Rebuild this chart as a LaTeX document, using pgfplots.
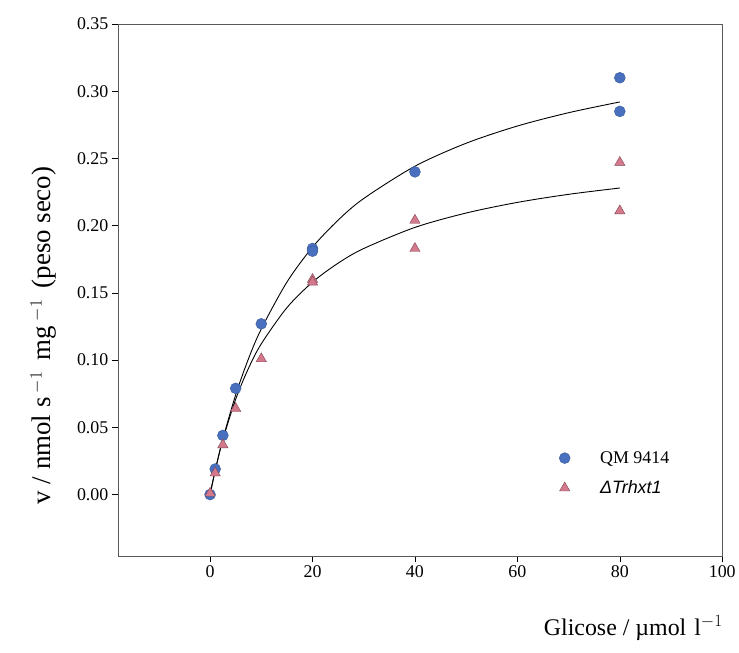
\documentclass[border=0pt]{standalone}
\usepackage{fontspec}
\setmainfont{Liberation Serif}
\setsansfont{Liberation Sans}
\usepackage{pgfplots}
\pgfplotsset{compat=1.18}
\definecolor{qmblue}{RGB}{72,112,190}
\definecolor{trpink}{RGB}{212,120,140}
\begin{document}
\begin{tikzpicture}
\begin{axis}[
  scale only axis,
  width=605bp, height=533bp,
  xmin=-18, xmax=100, ymin=-0.046, ymax=0.35,
  xtick={0,20,40,60,80,100},
  ytick={0,0.05,0.10,0.15,0.20,0.25,0.30,0.35},
  yticklabel style={/pgf/number format/.cd,fixed,fixed zerofill,precision=2},
  /pgf/number format/assume math mode=true,
  tick align=outside,
  xtick pos=bottom, ytick pos=left,
  major tick length=6bp,
  tick style={black, line width=0.6pt},
  ticklabel style={font=\fontsize{18}{20}\selectfont},
  axis line style={gray!70!black, line width=0.7pt},
  xlabel={Glicose / \textmu mol\,\,l$^{-1}$},
  xlabel style={font=\fontsize{24}{26}\selectfont, at={(rel axis cs:1,0)}, anchor=north east, yshift=-56bp, xshift=4bp},
  ylabel={v / nmol s\,$^{-1}$\, mg\,$^{-1}$\, (peso seco)},
  ylabel style={font=\fontsize{27}{29}\selectfont, at={(rel axis cs:0,0.415)}, yshift=58bp},
  legend style={draw=none, fill=none, at={(rel axis cs:0.725,0.205)}, anchor=north west,
    font=\fontsize{18}{20}\selectfont, row sep=12bp},
  legend cell align=left,
]
\addplot[only marks, mark=*, mark size=5.5pt, mark options={fill=qmblue, draw=qmblue!80!black}]
  coordinates {(0,0.000) (1,0.019) (2.5,0.044) (5,0.079) (10,0.127) (20,0.183) (20,0.181) (40,0.240) (80,0.310) (80,0.285)};
\addlegendentry{\hspace*{28bp}QM 9414}
\addplot[only marks, mark=triangle*, mark size=6pt, mark options={fill=trpink, draw=trpink!60!black}]
  coordinates {(0,0.001) (1,0.016) (2.5,0.037) (5,0.064) (10,0.101) (20,0.160) (20,0.158) (40,0.204) (40,0.183) (80,0.247) (80,0.211)};
\addlegendentry{\hspace*{28bp}\sffamily\itshape ΔTrhxt1}
\addplot[black, line width=0.9pt, smooth, forget plot]
  coordinates {(0,0) (1,0.0177) (2.5,0.0413) (5,0.0742) (7.5,0.1010) (10,0.1232) (15,0.1580) (20,0.1840) (25,0.2041) (30,0.2202) (40,0.2442) (50,0.2613) (60,0.2741) (70,0.2840) (80,0.2920)};
\addplot[black, line width=0.9pt, smooth, forget plot]
  coordinates {(0,0) (1,0.0180) (2.5,0.0409) (5,0.0709) (7.5,0.0939) (10,0.1121) (15,0.1390) (20,0.1580) (25,0.1721) (30,0.1830) (40,0.1987) (50,0.2094) (60,0.2173) (70,0.2233) (80,0.2280)};
\end{axis}
\useasboundingbox ([shift={(-118bp,-96bp)}]current axis.south west) rectangle ([shift={(16bp,24bp)}]current axis.north east);
\end{tikzpicture}
\end{document}
